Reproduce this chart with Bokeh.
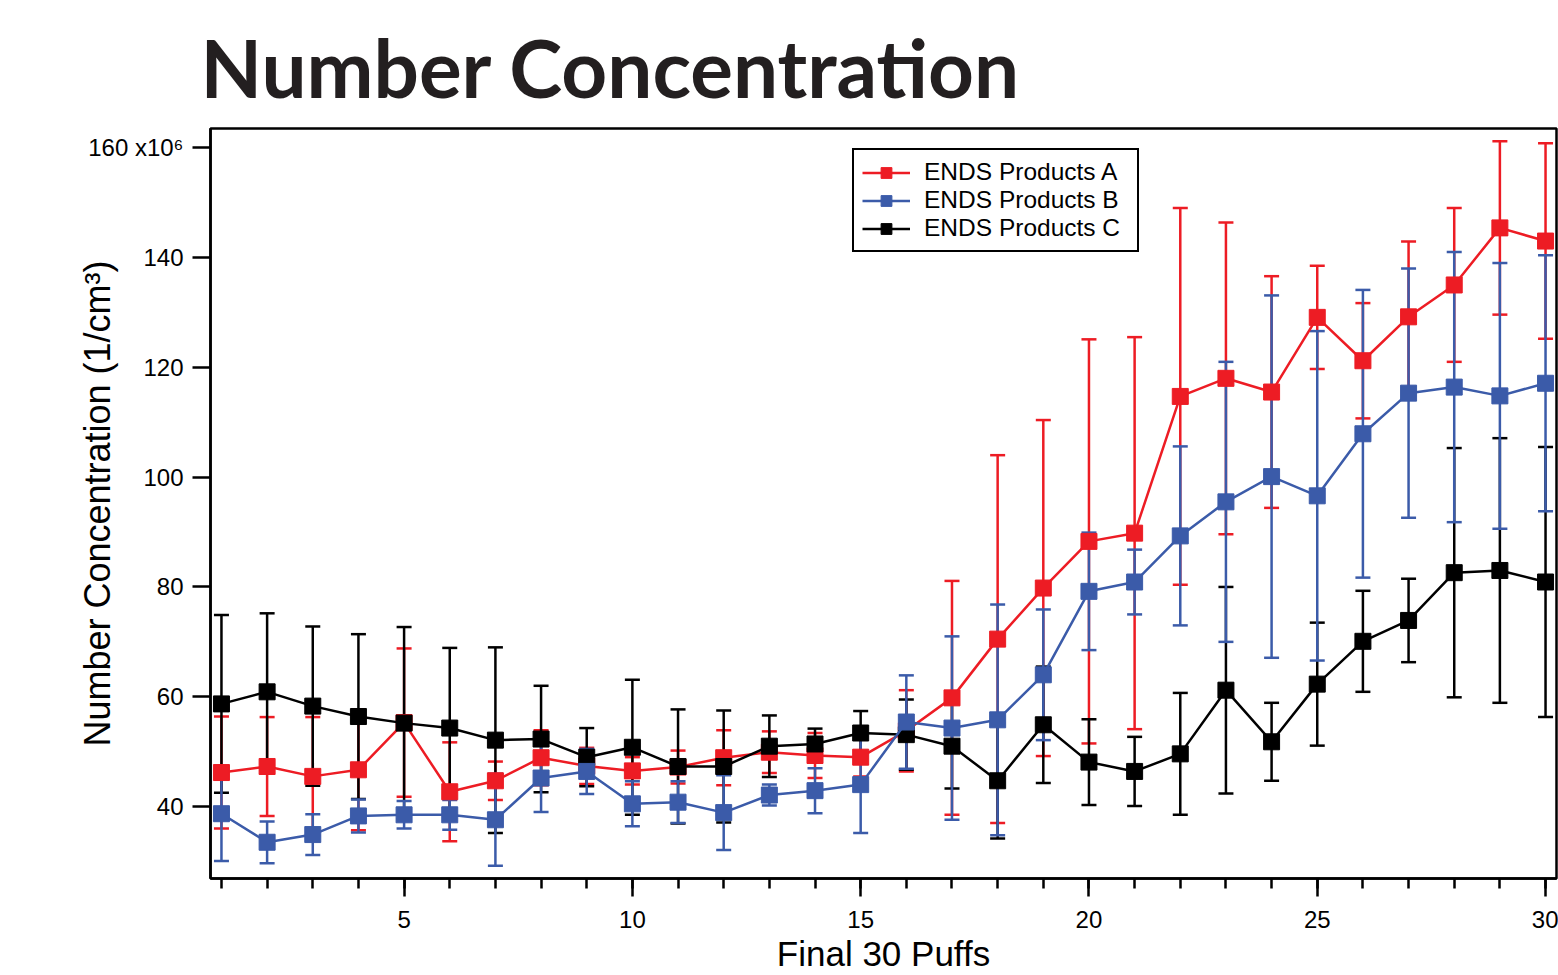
from bokeh.plotting import figure
from bokeh.models import (Range1d, FixedTicker, Whisker, TeeHead, ColumnDataSource,
                          Legend, LegendItem, Title)
from bokeh.embed import file_html
from bokeh.resources import INLINE

# ---------------- data (values in units of 10^6 particles / cm^3) ----------------
puffs = list(range(1, 31))

a_mean = [46.2, 47.3, 45.5, 46.7, 55.3, 42.7, 44.7, 48.9, 47.4, 46.5,
          47.2, 48.9, 49.9, 49.3, 49.0, 53.8, 59.8, 70.5, 79.8, 88.3,
          89.8, 114.7, 118.0, 115.5, 129.1, 121.2, 129.2, 135.0, 145.4, 143.0]
a_err = [10.2, 9.0, 10.8, 11.0, 13.5, 9.0, 3.5, 5.0, 3.3, 2.5,
         3.0, 5.0, 3.8, 4.1, 3.5, 7.4, 21.3, 33.5, 30.6, 36.8,
         35.7, 34.3, 28.4, 21.1, 9.4, 10.5, 13.7, 14.0, 15.8, 17.8]

b_mean = [38.7, 33.5, 34.9, 38.3, 38.5, 38.5, 37.6, 45.2, 46.4, 40.5,
          40.8, 38.9, 42.1, 42.9, 44.0, 55.4, 54.3, 55.8, 64.0, 79.2,
          80.9, 89.3, 95.5, 100.1, 96.6, 107.9, 115.3, 116.4, 114.8, 117.1]
b_err = [8.6, 3.8, 3.7, 3.0, 2.5, 2.7, 8.4, 6.2, 4.1, 4.1,
         3.8, 6.8, 1.9, 4.1, 8.8, 8.5, 16.7, 21.0, 11.9, 10.7,
         5.9, 16.3, 25.5, 33.0, 30.0, 26.2, 22.7, 24.6, 24.2, 23.3]

c_mean = [58.7, 60.9, 58.3, 56.4, 55.2, 54.3, 52.1, 52.3, 49.0, 50.8,
          47.3, 47.3, 51.0, 51.4, 53.4, 53.1, 51.0, 44.7, 54.9, 48.1,
          46.4, 49.6, 61.2, 51.8, 62.3, 70.1, 73.9, 82.6, 83.0, 80.9]
c_err = [16.2, 14.3, 14.5, 15.0, 17.5, 14.6, 16.9, 9.7, 5.3, 12.3,
         10.4, 10.2, 5.6, 2.8, 4.0, 6.4, 7.7, 10.5, 10.6, 7.8,
         6.3, 11.1, 18.8, 7.1, 11.2, 9.2, 7.6, 22.7, 24.1, 24.6]

series_names = ["ENDS Products A", "ENDS Products B", "ENDS Products C"]
series_colors = ["#ED1C24", "#3B5BA9", "#000000"]

y_ticks = [40, 60, 80, 100, 120, 140, 160]
y_tick_labels = {160: "160 x10\u2076"}
x_ticks = [5, 10, 15, 20, 25, 30]

title_text = "Number Concentration"
x_label = "Final 30 Puffs"
y_label = "Number Concentration (1/cm\u00b3)"

# ---------------- figure ----------------
FONT = "Liberation Sans"

p = figure(width=1558, height=975, output_backend="svg", toolbar_location=None,
           x_range=Range1d(0.76, 30.24), y_range=Range1d(26.9, 163.5),
           min_border_left=210, min_border_right=2, min_border_top=128,
           min_border_bottom=97, background_fill_color="white",
           border_fill_color="white")

p.title = Title(text=title_text, align="left", offset=-10, standoff=27,
                text_font="Lato", text_font_style="bold", text_font_size="80px",
                text_color="#231F20")

p.grid.visible = False
p.outline_line_color = "black"
p.outline_line_width = 2.5
p.outline_line_alpha = 1.0

# x axis
xa = p.xaxis[0]
xa.ticker = FixedTicker(ticks=x_ticks, minor_ticks=puffs)
xa.axis_line_width = 2.5
xa.axis_line_color = "black"
xa.major_tick_line_width = 2.5
xa.minor_tick_line_width = 2.5
xa.major_tick_line_color = "black"
xa.minor_tick_line_color = "black"
xa.major_tick_out = 18
xa.major_tick_in = 0
xa.minor_tick_out = 10
xa.minor_tick_in = 0
xa.major_label_standoff = 14
xa.major_label_text_font = FONT
xa.major_label_text_font_size = "24px"
xa.major_label_text_color = "black"
xa.axis_label = x_label
xa.axis_label_text_font = FONT
xa.axis_label_text_font_size = "35px"
xa.axis_label_text_font_style = "normal"
xa.axis_label_text_color = "black"
xa.axis_label_standoff = 3

# y axis
ya = p.yaxis[0]
ya.ticker = FixedTicker(ticks=y_ticks, minor_ticks=[])
ya.major_label_overrides = y_tick_labels
ya.axis_line_width = 2.5
ya.axis_line_color = "black"
ya.major_tick_line_width = 2.5
ya.major_tick_line_color = "black"
ya.major_tick_out = 18
ya.major_tick_in = 0
ya.minor_tick_out = 0
ya.minor_tick_in = 0
ya.major_label_standoff = 9
ya.major_label_text_font = FONT
ya.major_label_text_font_size = "24px"
ya.major_label_text_color = "black"
ya.axis_label = y_label
ya.axis_label_text_font = FONT
ya.axis_label_text_font_size = "36px"
ya.axis_label_text_font_style = "normal"
ya.axis_label_text_color = "black"
ya.axis_label_standoff = -33

# ---------------- series ----------------
means = [a_mean, b_mean, c_mean]
errs = [a_err, b_err, c_err]
renderers = {}
draw_order = [0, 2, 1]
for i in draw_order:
    m, e, col = means[i], errs[i], series_colors[i]
    src = ColumnDataSource(dict(
        x=puffs, y=m,
        upper=[v + d for v, d in zip(m, e)],
        lower=[v - d for v, d in zip(m, e)],
    ))
    wh = Whisker(source=src, base="x", upper="upper", lower="lower",
                 line_color=col, line_width=2.5,
                 upper_head=TeeHead(size=15, line_color=col, line_width=2.5),
                 lower_head=TeeHead(size=15, line_color=col, line_width=2.5))
    p.add_layout(wh)
    ln = p.line("x", "y", source=src, line_color=col, line_width=2.5)
    sc = p.scatter("x", "y", source=src, marker="square", size=16,
                   fill_color=col, line_color=col, line_width=1)
    renderers[i] = (ln, sc)

legend = Legend(items=[LegendItem(label=series_names[i], renderers=list(renderers[i]))
                       for i in range(3)],
                location=(642, 626))
legend.label_text_font = FONT
legend.label_text_font_size = "24.5px"
legend.label_text_color = "black"
legend.glyph_width = 48
legend.glyph_height = 27
legend.label_height = 20
legend.label_width = 205
legend.spacing = 0
legend.padding = 8
legend.margin = 0
legend.label_standoff = 14
legend.border_line_color = "black"
legend.border_line_width = 2
legend.border_line_alpha = 1.0
legend.background_fill_alpha = 1.0
p.add_layout(legend)

open("out.html", "w").write(file_html(p, INLINE))
